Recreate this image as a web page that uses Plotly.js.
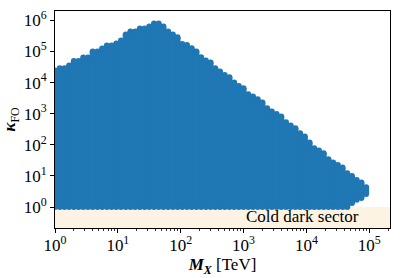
<!DOCTYPE html>
<html>
<head>
<meta charset="utf-8">
<script src="https://cdn.plot.ly/plotly-3.0.1.min.js"></script>
<style>html,body{margin:0;padding:0;background:#fff;}#chart{width:400px;height:278px;}</style>
</head>
<body>
<div id="chart"></div>
<script>
// Dark-matter mass grid (TeV), one column of points per mass value
const massTeV = [1, 1.189, 1.413, 1.679, 1.995, 2.371, 2.818, 3.350, 3.981, 4.732,
  5.623, 6.683, 7.943, 9.441, 11.22, 13.34, 15.85, 18.84, 22.39, 26.61,
  31.62, 37.58, 44.67, 53.09, 63.10, 74.99, 89.13, 105.9, 125.9, 149.6,
  177.8, 211.3, 251.2, 298.5, 354.8, 421.7, 501.2, 595.7, 707.9, 841.4,
  1000, 1189, 1413, 1679, 1995, 2371, 2818, 3350, 3981, 4732,
  5623, 6683, 7943, 9441, 11220, 13340, 15850, 18840, 22390, 26610,
  31620, 37580, 44670, 53090, 63100, 74990, 89130];
// Largest kappa_FO reached at each mass
const kappaMax = [2.43e4, 2.88e4, 2.88e4, 3.52e4, 4.95e4, 4.95e4, 6.37e4, 6.37e4, 9.93e4, 9.93e4,
  1.24e5, 1.55e5, 1.55e5, 1.79e5, 2.24e5, 3.49e5, 4.37e5, 4.37e5, 5.45e5, 5.45e5,
  6.31e5, 7.89e5, 7.89e5, 6.31e5, 4.37e5, 3.49e5, 2.86e5, 1.74e5, 1.62e5, 1.27e5,
  9.93e4, 6.50e4, 5.09e4, 4.40e4, 2.88e4, 2.26e4, 1.75e4, 1.48e4, 1.00e4, 7780,
  6560, 4210, 3550, 2900, 2280, 1490, 1170, 977, 807, 528,
  414, 340, 234, 184, 118, 77.1, 65.2, 53.3, 34.2, 26.8,
  22.4, 18.5, 12.1, 9.93, 7.38, 6.10, 4.30];
// Smallest kappa_FO reached at each mass
const kappaMin = [1, 1, 1, 1, 1, 1, 1, 1, 1, 1,
  1, 1, 1, 1, 1, 1, 1, 1, 1, 1,
  1, 1, 1, 1, 1, 1, 1, 1, 1, 1,
  1, 1, 1, 1, 1, 1, 1, 1, 1, 1,
  1, 1, 1, 1, 1, 1, 1, 1, 1, 1,
  1, 1, 1, 1, 1, 1, 1, 1, 1, 1,
  1, 1, 1, 1.35, 1.7, 1.95, 2.6];
// Cold dark sector: kappa below this bound
const coldBound = 1;
const coldLabel = "Cold dark sector";
// Tick labels
const xTickVals = [1, 10, 100, 1000, 10000, 100000];
const xTickText = ["10<sup>0</sup>", "10<sup>1</sup>", "10<sup>2</sup>", "10<sup>3</sup>", "10<sup>4</sup>", "10<sup>5</sup>"];
const yTickVals = [1, 10, 100, 1000, 10000, 100000, 1000000];
const yTickText = ["10<sup>0</sup>", "10<sup>1</sup>", "10<sup>2</sup>", "10<sup>3</sup>", "10<sup>4</sup>", "10<sup>5</sup>", "10<sup>6</sup>"];

const xs = [], ys = [];
for (let i = 0; i < massTeV.length; i++) {
  xs.push(massTeV[i], massTeV[i], null);
  ys.push(kappaMin[i], kappaMax[i], null);
}

const blue = '#1f77b4';
const trace = {
  type: 'scatter', mode: 'lines+markers', x: xs, y: ys,
  line: {color: blue, width: 6},
  marker: {color: blue, size: 6},
  connectgaps: false, hoverinfo: 'skip', showlegend: false
};

function F(size) { return {family: 'Liberation Serif', size: size, color: '#000000'}; }

function axisCommon() {
  return {
    type: 'log', showline: true, mirror: true, linecolor: '#000', linewidth: 1,
    ticks: 'outside', ticklen: 4, tickwidth: 1, tickcolor: '#000',
    showgrid: false, zeroline: false, tickmode: 'array', tickfont: F(17)
  };
}

const layout = {
  width: 400, height: 278,
  margin: {l: 55, r: 10, t: 11, b: 50},
  paper_bgcolor: '#fff', plot_bgcolor: '#fff',
  showlegend: false,
  xaxis: Object.assign(axisCommon(), {
    range: [0, 5.33], tickvals: xTickVals, ticktext: xTickText,
    ticklabelstandoff: -2,
    minor: {tickmode: 'linear', tick0: 0, dtick: 'D1', ticks: 'outside', ticklen: 2, tickwidth: 0.8, tickcolor: '#000', showgrid: false},
    title: {text: '<b><i>M</i></b><sub><b><i>X</i></b></sub> [TeV]', font: F(17), standoff: 0}
  }),
  yaxis: Object.assign(axisCommon(), {
    range: [-0.675, 6.30], tickvals: yTickVals, ticktext: yTickText,
    title: {text: '<b><i>κ</i></b><sub>FO</sub>', font: F(17), standoff: 7}
  }),
  shapes: [{
    type: 'rect', layer: 'below', xref: 'paper', x0: 0, x1: 1,
    yref: 'y', y0: 0.01, y1: coldBound,
    fillcolor: '#fdf3e3', line: {width: 0}
  }],
  annotations: [{
    text: coldLabel, xref: 'x', yref: 'y', x: 3, y: -0.32,
    xanchor: 'left', yanchor: 'middle', showarrow: false, font: F(17)
  }]
};

Plotly.newPlot('chart', [trace], layout, {displayModeBar: false, staticPlot: true});
</script>
</body>
</html>
